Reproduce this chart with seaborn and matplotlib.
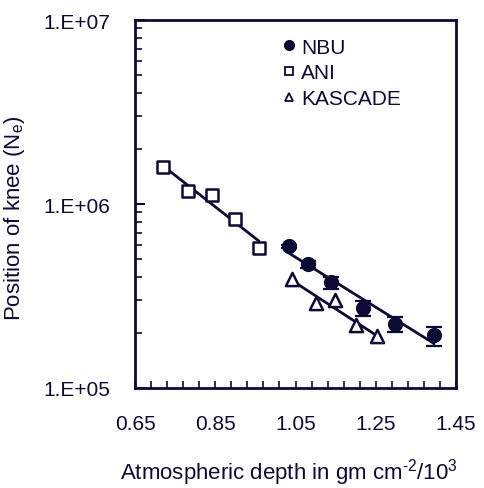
import numpy as np
import pandas as pd
import matplotlib
matplotlib.use("Agg")
import matplotlib.pyplot as plt
import seaborn as sns
from matplotlib.ticker import FixedLocator, LogLocator, NullFormatter, FixedFormatter
from matplotlib.lines import Line2D

# ---- data ----
nbu_x = [1.034, 1.080, 1.138, 1.219, 1.299, 1.395]
nbu_y = [5.89e5, 4.72e5, 3.75e5, 2.73e5, 2.23e5, 1.94e5]
nbu_err_lo = [1.0e4, 2.4e4, 3.0e4, 2.8e4, 2.2e4, 2.4e4]
nbu_err_hi = [1.0e4, 2.0e4, 2.8e4, 2.5e4, 1.9e4, 2.0e4]

ani_x = [0.719, 0.783, 0.843, 0.900, 0.959]
ani_y = [1.58e6, 1.18e6, 1.12e6, 8.3e5, 5.8e5]

kas_x = [1.042, 1.100, 1.148, 1.201, 1.252]
kas_y = [3.91e5, 2.90e5, 3.01e5, 2.21e5, 1.92e5]

x_ticks = [0.65, 0.85, 1.05, 1.25, 1.45]
x_ticklabels = ["0.65", "0.85", "1.05", "1.25", "1.45"]
y_ticks = [1e5, 1e6, 1e7]
y_ticklabels = ["1.E+05", "1.E+06", "1.E+07"]
series_names = ["NBU", "ANI", "KASCADE"]

ink = "#0b0b33"

sns.set_theme(style="white")
plt.rcParams['font.family'] = ['Liberation Sans', 'DejaVu Sans']
plt.rcParams['mathtext.fontset'] = 'custom'
plt.rcParams['mathtext.rm'] = 'Liberation Sans'
plt.rcParams['mathtext.it'] = 'Liberation Sans'

fig = plt.figure(figsize=(4.84, 4.89), dpi=100)
ax = fig.add_axes([135/484, 1 - 389/489, (456-135)/484, (389-21)/489])

def fit_line(xs, ys):
    xs = np.asarray(xs); ys = np.asarray(ys)
    b, a = np.polyfit(xs, np.log10(ys), 1)
    xx = np.array([xs.min(), xs.max()])
    return pd.DataFrame({"x": xx, "y": 10 ** (a + b * xx)})

for xs, ys in [(nbu_x, nbu_y), (ani_x, ani_y), (kas_x, kas_y)]:
    d = fit_line(xs, ys)
    sns.lineplot(data=d, x="x", y="y", ax=ax, color=ink, lw=2.0, zorder=2)

ax.errorbar(nbu_x, nbu_y, yerr=[nbu_err_lo, nbu_err_hi], fmt="none",
            ecolor=ink, elinewidth=1.6, capsize=6, capthick=1.6, zorder=3)

df_nbu = pd.DataFrame({"x": nbu_x, "y": nbu_y})
df_ani = pd.DataFrame({"x": ani_x, "y": ani_y})
df_kas = pd.DataFrame({"x": kas_x, "y": kas_y})

sns.scatterplot(data=df_nbu, x="x", y="y", ax=ax, marker="o", s=120,
                color=ink, edgecolor=ink, linewidth=0, zorder=4)
sns.scatterplot(data=df_ani, x="x", y="y", ax=ax, marker="s", s=80,
                facecolor="white", edgecolor=ink, linewidth=1.8, zorder=4)
sns.scatterplot(data=df_kas, x="x", y="y", ax=ax, marker="^", s=90,
                facecolor="white", edgecolor=ink, linewidth=1.8, zorder=4)

ax.set_yscale("log")
ax.set_xlim(0.65, 1.45)
ax.set_ylim(1e5, 1e7)

ax.xaxis.set_major_locator(FixedLocator(x_ticks))
ax.xaxis.set_major_formatter(FixedFormatter(x_ticklabels))
ax.xaxis.set_minor_locator(FixedLocator(np.arange(0.65, 1.4501, 0.04)))
ax.yaxis.set_major_locator(FixedLocator(y_ticks))
ax.yaxis.set_major_formatter(FixedFormatter(y_ticklabels))
ax.yaxis.set_minor_locator(LogLocator(base=10, subs=np.arange(2, 10)))
ax.yaxis.set_minor_formatter(NullFormatter())

ax.tick_params(axis="both", which="both", direction="in", colors=ink,
               labelcolor=ink, labelsize=15, top=False, right=False)
ax.tick_params(axis="x", which="major", length=5, width=1.2, pad=19, bottom=True)
ax.tick_params(axis="x", which="minor", length=5, width=1.2, bottom=True)
ax.tick_params(axis="y", which="major", length=7, width=1.5, pad=18, left=True)
ax.tick_params(axis="y", which="minor", length=5, width=1.2, left=True)

for sp in ax.spines.values():
    sp.set_visible(True)
    sp.set_color(ink)
    sp.set_linewidth(2.0)

ax.set_xlabel(r"Atmospheric depth in gm cm$^{\text{-2}}$/10$^{\mathregular{3}}$",
              fontsize=16, color=ink, labelpad=16)
ax.xaxis.label.set_x(0.48)
ax.set_ylabel(r"Position of knee (N$_{\mathregular{e}}$)", fontsize=16, color=ink)
ax.yaxis.set_label_coords(-0.335, 0.463)

handles = [
    Line2D([], [], marker="o", ls="none", color=ink, markersize=7),
    Line2D([], [], marker="s", ls="none", markerfacecolor="white", markeredgecolor=ink,
           markeredgewidth=1.3, markersize=6),
    Line2D([], [], marker="^", ls="none", markerfacecolor="white", markeredgecolor=ink,
           markeredgewidth=1.3, markersize=6),
]
leg = ax.legend(handles, series_names, loc="upper left",
                bbox_to_anchor=(0.42, 0.975), frameon=False, fontsize=15,
                handletextpad=0.1, labelspacing=0.33, handlelength=1.0,
                borderaxespad=0)
for t in leg.get_texts():
    t.set_color(ink)

fig.savefig("out.png", dpi=100, facecolor="white")
